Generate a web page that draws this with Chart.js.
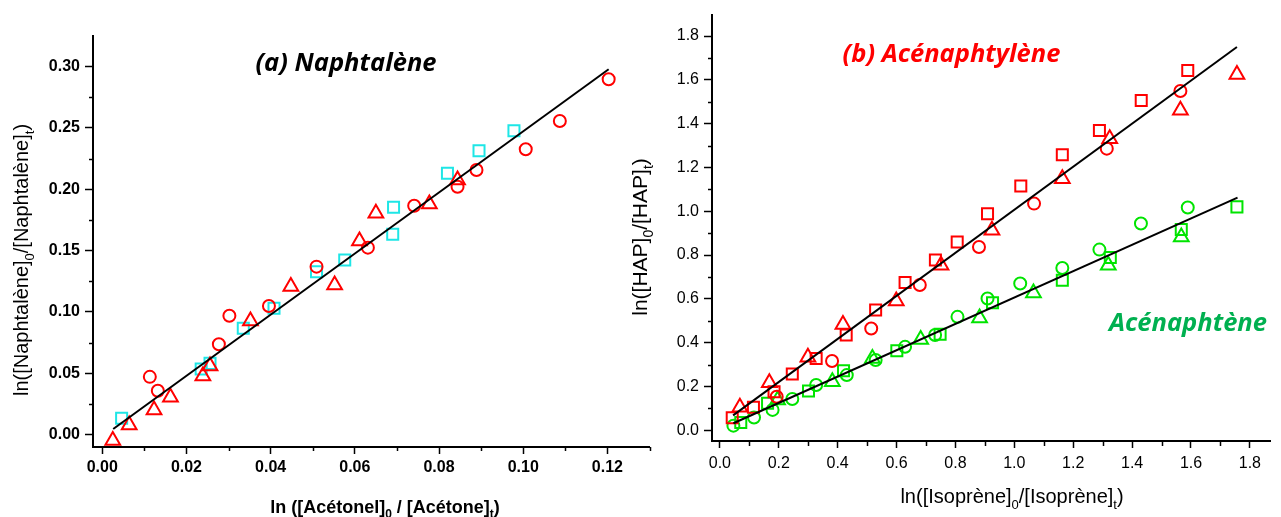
<!DOCTYPE html>
<html>
<head>
<meta charset="utf-8">
<script src="https://cdn.jsdelivr.net/npm/chart.js@4.4.0/dist/chart.umd.min.js"></script>
<style>
  html, body { margin: 0; padding: 0; background: #fff; }
  #wrap { position: relative; width: 1281px; height: 517px; overflow: hidden; }
  #chartA { position: absolute; left: 0; top: 0; }
  #chartB { position: absolute; left: 625px; top: 0; }
</style>
</head>
<body>
<div id="wrap">
  <canvas id="chartA" width="660" height="517"></canvas>
  <canvas id="chartB" width="656" height="517"></canvas>
</div>
<script>
// ---- (a) Naphtalène : x = ln([Acétone]0/[Acétone]t), y = ln([Naphtalène]0/[Naphtalène]t)
var naphCircleX = [0.0113, 0.0132, 0.0277, 0.0302, 0.0396, 0.0509, 0.0631, 0.0741, 0.0844, 0.0889, 0.1006, 0.1087, 0.1203];
var naphCircleY = [0.047, 0.0357, 0.0736, 0.0969, 0.1048, 0.1369, 0.1524, 0.1866, 0.2021, 0.2157, 0.2326, 0.2557, 0.2897];
var naphTriX = [0.0025, 0.0064, 0.0123, 0.0162, 0.0239, 0.0256, 0.0352, 0.0448, 0.0552, 0.0611, 0.0650, 0.0777, 0.0844];
var naphTriY = [-0.005, 0.0077, 0.020, 0.0303, 0.0477, 0.0559, 0.0926, 0.1206, 0.122, 0.1578, 0.1804, 0.188, 0.2076];
var naphSqX = [0.0046, 0.0235, 0.0256, 0.0335, 0.0408, 0.0509, 0.0576, 0.0690, 0.0692, 0.0820, 0.0895, 0.0978];
var naphSqY = [0.0132, 0.0534, 0.058, 0.0866, 0.1029, 0.1328, 0.1423, 0.1633, 0.1853, 0.213, 0.2315, 0.2478];
var naphFitX = [0.0026, 0.1203];
var naphFitY = [0.0045, 0.2979];
var naphXLabels = ['0.00', '0.02', '0.04', '0.06', '0.08', '0.10', '0.12'];
var naphYLabels = ['0.00', '0.05', '0.10', '0.15', '0.20', '0.25', '0.30'];

// ---- (b) Acénaphtylène (red) / Acénaphtène (green) : x = ln([Isoprène]0/[Isoprène]t)
var acyCircleX = [0.193, 0.381, 0.514, 0.679, 0.880, 1.067, 1.314, 1.564];
var acyCircleY = [0.153, 0.316, 0.465, 0.663, 0.837, 1.035, 1.286, 1.549];
var acyTriX = [0.068, 0.168, 0.299, 0.418, 0.599, 0.751, 0.924, 1.163, 1.324, 1.564, 1.756];
var acyTriY = [0.105, 0.217, 0.333, 0.483, 0.590, 0.754, 0.913, 1.149, 1.331, 1.461, 1.625];
var acySqX = [0.042, 0.114, 0.184, 0.246, 0.327, 0.429, 0.529, 0.629, 0.732, 0.806, 0.909, 1.022, 1.163, 1.289, 1.431, 1.589];
var acySqY = [0.057, 0.105, 0.176, 0.257, 0.328, 0.435, 0.549, 0.675, 0.777, 0.860, 0.989, 1.115, 1.258, 1.369, 1.506, 1.643];
var acyFitX = [0.045, 1.756];
var acyFitY = [0.068, 1.750];

var aceCircleX = [0.046, 0.116, 0.179, 0.246, 0.327, 0.431, 0.529, 0.629, 0.731, 0.807, 0.909, 1.020, 1.163, 1.289, 1.430, 1.589];
var aceCircleY = [0.021, 0.058, 0.093, 0.143, 0.207, 0.252, 0.321, 0.381, 0.435, 0.518, 0.602, 0.670, 0.741, 0.825, 0.944, 1.017];
var aceTriX = [0.196, 0.382, 0.518, 0.682, 0.882, 1.065, 1.319, 1.567];
var aceTriY = [0.138, 0.222, 0.328, 0.415, 0.513, 0.627, 0.754, 0.883];
var aceSqX = [0.071, 0.162, 0.301, 0.420, 0.601, 0.748, 0.926, 1.163, 1.326, 1.567, 1.756];
var aceSqY = [0.035, 0.123, 0.179, 0.272, 0.363, 0.438, 0.582, 0.685, 0.789, 0.917, 1.020];
var aceFitX = [0.046, 1.758];
var aceFitY = [0.032, 1.062];

var hapXLabels = ['0.0', '0.2', '0.4', '0.6', '0.8', '1.0', '1.2', '1.4', '1.6', '1.8'];
var hapYLabels = ['0.0', '0.2', '0.4', '0.6', '0.8', '1.0', '1.2', '1.4', '1.6', '1.8'];

function pts(xs, ys) {
    return xs.map(function (x, i) { return { x: x, y: ys[i] }; });
}

function markers(label, xs, ys, style, color, radius) {
    return {
        label: label,
        data: pts(xs, ys),
        pointStyle: style,
        pointRadius: radius,
        pointBorderWidth: 2,
        pointBorderColor: color,
        pointBackgroundColor: 'rgba(0,0,0,0)',
        showLine: false,
        order: 2
    };
}

function fitLine(xs, ys) {
    return {
        label: 'fit',
        data: pts(xs, ys),
        showLine: true,
        borderColor: '#000',
        borderWidth: 2,
        pointRadius: 0,
        order: 1
    };
}

// rich text with subscripts, parts = [[text, isSub], ...]
function drawRich(ctx, item) {
    var fam = item.family || '"Liberation Sans", Arial, sans-serif';
    var pre = (item.style || 'normal') + ' ' + (item.weight || 'normal') + ' ';
    var mainFont = pre + item.size + 'px ' + fam;
    var subFont = pre + Math.round(item.size * 0.65) + 'px ' + fam;
    ctx.save();
    ctx.translate(item.x, item.y);
    if (item.rot) ctx.rotate(item.rot * Math.PI / 180);
    ctx.fillStyle = item.color || '#000';
    ctx.textBaseline = 'alphabetic';
    ctx.textAlign = 'left';
    var total = 0;
    item.parts.forEach(function (p) {
        ctx.font = p[1] ? subFont : mainFont;
        total += ctx.measureText(p[0]).width;
    });
    var cx = -total / 2;
    item.parts.forEach(function (p) {
        ctx.font = p[1] ? subFont : mainFont;
        ctx.fillText(p[0], cx, p[1] ? item.size * 0.3 : 0);
        cx += ctx.measureText(p[0]).width;
    });
    ctx.restore();
}

var axisDecor = {
    id: 'axisDecor',
    afterDraw: function (chart, args, opts) {
        var ctx = chart.ctx;
        ctx.save();
        ctx.strokeStyle = '#000';
        ctx.lineWidth = 1.5;
        (opts.minor || []).forEach(function (m) {
            var sc = chart.scales[m.axis];
            for (var i = 0; i < 100; i++) {
                var v = m.from + i * m.step * 2;
                if (v > sc.max) break;
                if (v < sc.min) continue;
                var p = Math.round(sc.getPixelForValue(v)) + 0.5;
                ctx.beginPath();
                if (m.axis === 'x') {
                    ctx.moveTo(p, sc.top);
                    ctx.lineTo(p, sc.top + m.len);
                } else {
                    ctx.moveTo(sc.right, p);
                    ctx.lineTo(sc.right - m.len, p);
                }
                ctx.stroke();
            }
        });
        ctx.restore();
        (opts.texts || []).forEach(function (t) { drawRich(chart.ctx, t); });
    }
};

function linearAxis(labels, min, max, size, font, tickLen, pad) {
    return {
        type: 'linear',
        min: min,
        max: max,
        afterFit: function (s) {
            if (s.isHorizontal()) s.height = size; else s.width = size;
        },
        afterBuildTicks: function (s) {
            s.ticks = labels.map(function (l) { return { value: parseFloat(l) }; });
        },
        border: { display: true, color: '#000', width: 2 },
        grid: { display: true, drawOnChartArea: false, drawTicks: true, tickLength: tickLen, tickWidth: 1.5, tickColor: '#000' },
        ticks: {
            font: font,
            color: '#000',
            padding: pad,
            maxRotation: 0,
            autoSkip: false,
            callback: function (value, index) { return labels[index]; }
        }
    };
}

var commonOpts = {
    responsive: false,
    animation: false,
    events: [],
    plugins: { legend: { display: false }, tooltip: { enabled: false } }
};

var titleFamily = '"Open Sans", Lato, sans-serif';
var tickFontA = { family: '"Liberation Sans", Arial, sans-serif', size: 16, weight: 'bold' };

new Chart(document.getElementById('chartA'), {
    type: 'scatter',
    data: {
        datasets: [
            markers('cercles', naphCircleX, naphCircleY, 'circle', '#FF0000', 6),
            markers('triangles', naphTriX, naphTriY, 'triangle', '#FF0000', 8.5),
            markers('carrés', naphSqX, naphSqY, 'rect', '#1EE6E6', 7.8),
            fitLine(naphFitX, naphFitY)
        ]
    },
    options: Object.assign({}, commonOpts, {
        layout: { padding: { left: 0, right: 8, top: 36, bottom: 0 } },
        scales: {
            x: linearAxis(naphXLabels, -0.0022, 0.13, 70, tickFontA, 7, 4),
            y: linearAxis(naphYLabels, -0.0102, 0.325, 93, tickFontA, 8, 5)
        },
        plugins: Object.assign({}, commonOpts.plugins, {
            axisDecor: {
                minor: [
                    { axis: 'x', from: 0.01, step: 0.01, len: 4 },
                    { axis: 'y', from: 0.025, step: 0.025, len: 4 }
                ],
                texts: [
                    { parts: [['(a) Naphtalène']], x: 346, y: 71, size: 25.5, weight: 'bold', style: 'italic', family: titleFamily },
                    { parts: [['ln ([Acétonel]'], ['0', 1], [' / [Acétone]'], ['t', 1], [')']], x: 385, y: 513, size: 18, weight: 'bold' },
                    { parts: [['ln([Naphtalène]'], ['0', 1], ['/[Naphtalène]'], ['t', 1], [')']], x: 28, y: 260, size: 20, rot: -90 }
                ]
            }
        })
    }),
    plugins: [axisDecor]
});

var tickFontB = { family: '"Liberation Sans", Arial, sans-serif', size: 16 };

new Chart(document.getElementById('chartB'), {
    type: 'scatter',
    data: {
        datasets: [
            markers('Acénaphtylène cercles', acyCircleX, acyCircleY, 'circle', '#FF0000', 6),
            markers('Acénaphtylène triangles', acyTriX, acyTriY, 'triangle', '#FF0000', 8.5),
            markers('Acénaphtylène carrés', acySqX, acySqY, 'rect', '#FF0000', 7.8),
            markers('Acénaphtène cercles', aceCircleX, aceCircleY, 'circle', '#00E400', 6),
            markers('Acénaphtène triangles', aceTriX, aceTriY, 'triangle', '#00E400', 8.5),
            markers('Acénaphtène carrés', aceSqX, aceSqY, 'rect', '#00E400', 7.8),
            fitLine(acyFitX, acyFitY),
            fitLine(aceFitX, aceFitY)
        ]
    },
    options: Object.assign({}, commonOpts, {
        layout: { padding: { left: 0, right: 0, top: 14, bottom: 0 } },
        scales: {
            x: linearAxis(hapXLabels, -0.0267, 1.87, 76, tickFontB, 7, 6),
            y: linearAxis(hapYLabels, -0.049, 1.898, 87, tickFontB, 8, 5)
        },
        plugins: Object.assign({}, commonOpts.plugins, {
            axisDecor: {
                minor: [
                    { axis: 'x', from: 0.1, step: 0.1, len: 5 },
                    { axis: 'y', from: 0.1, step: 0.1, len: 4 }
                ],
                texts: [
                    { parts: [['(b) Acénaphtylène']], x: 951.5 - 625, y: 61.5, size: 25.5, weight: 'bold', style: 'italic', color: '#FF0000', family: titleFamily },
                    { parts: [['Acénaphtène']], x: 1188 - 625, y: 331, size: 25.5, weight: 'bold', style: 'italic', color: '#00B050', family: titleFamily },
                    { parts: [['ln([Isoprène]'], ['0', 1], ['/[Isoprène]'], ['t', 1], [')']], x: 1012 - 625, y: 503, size: 20 },
                    { parts: [['ln([HAP]'], ['0', 1], ['/[HAP]'], ['t', 1], [')']], x: 22, y: 237, size: 21, rot: -90 }
                ]
            }
        })
    }),
    plugins: [axisDecor]
});
</script>
</body>
</html>
